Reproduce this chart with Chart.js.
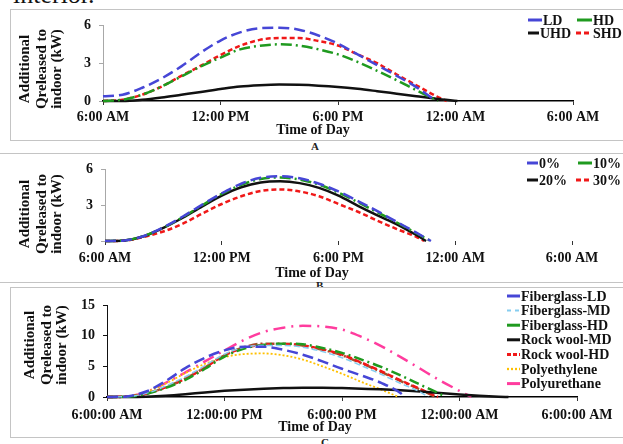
<!DOCTYPE html>
<html>
<head>
<meta charset="utf-8">
<script src="https://cdn.jsdelivr.net/npm/chart.js@4.4.1/dist/chart.umd.min.js"></script>
<style>
  body { margin: 0; width: 623px; height: 444px; overflow: hidden; background: #fff; position: relative; font-family: "Liberation Serif", serif; }
  .box { position: absolute; border: 1px solid #c4c4c4; background: #fff; }
  canvas { position: absolute; }
  .cap { position: absolute; font: bold 11px "Liberation Serif", serif; color: #222; }
  .top { position: absolute; left: 13px; top: -18px; font: 26px "Liberation Serif", serif; line-height: 26px; color: #111; }
</style>
</head>
<body>
<div class="top">interior.</div>
<div class="box" style="left:10px;top:9px;width:630px;height:130px"></div>
<div class="cap" style="left:311px;top:140px">A</div>
<div class="box" style="left:-2px;top:153px;width:640px;height:128px"></div>
<div class="cap" style="left:316px;top:279px">B</div>
<div class="box" style="left:10px;top:287px;width:630px;height:149px"></div>
<div class="cap" style="left:321px;top:436px">C</div>
<canvas id="chartA" width="613" height="131" style="left:10px;top:9px"></canvas>
<canvas id="chartB" width="613" height="129" style="left:10px;top:153px"></canvas>
<canvas id="chartC" width="613" height="150" style="left:10px;top:287px"></canvas>
<script>
// hours after 6:00 AM, one value per hour; the last number is the hour where the curve reaches 0
const tickHours = [0, 6, 12, 18, 24];
const timeLabels = ["6:00 AM", "12:00 PM", "6:00 PM", "12:00 AM", "6:00 AM"];
const timeLabelsC = ["6:00:00 AM", "12:00:00 PM", "6:00:00 PM", "12:00:00 AM", "6:00:00 AM"];

// A - density
const ldA  = [0.38, 0.5, 1.05, 1.8, 2.75, 3.85, 4.8, 5.45, 5.78, 5.82, 5.66, 5.2, 4.55, 3.7, 2.85, 2.0, 1.1];
const hdA  = [0, 0.1, 0.5, 1.15, 1.95, 2.75, 3.45, 4.1, 4.38, 4.5, 4.4, 4.1, 3.7, 3.1, 2.4, 1.65, 0.85];
const uhdA = [0, 0, 0.1, 0.28, 0.5, 0.72, 0.95, 1.15, 1.25, 1.3, 1.28, 1.22, 1.12, 0.97, 0.78, 0.58, 0.38, 0.18];
const shdA = [0, 0.1, 0.5, 1.15, 2.0, 2.8, 3.65, 4.38, 4.85, 5.0, 5.0, 4.76, 4.4, 3.7, 3.0, 2.1, 1.25, 0.4];
const endA = [17.0, 17.1, 18.1, 17.55];

// B - percentages
const p0B  = [0, 0.05, 0.42, 1.15, 2.05, 3.05, 4.0, 4.8, 5.3, 5.42, 5.25, 4.8, 4.15, 3.35, 2.5, 1.6, 0.7];
const p10B = [0, 0.05, 0.42, 1.12, 2.0, 3.0, 3.95, 4.7, 5.2, 5.32, 5.15, 4.72, 4.05, 3.25, 2.4, 1.55, 0.65];
const p20B = [0, 0.05, 0.4, 1.1, 1.95, 2.9, 3.8, 4.5, 4.9, 5.0, 4.85, 4.45, 3.8, 2.95, 2.15, 1.4, 0.5];
const p30B = [0, 0.03, 0.35, 0.8, 1.45, 2.3, 3.1, 3.75, 4.2, 4.32, 4.15, 3.75, 3.1, 2.45, 1.7, 1.0, 0.35];
const endB = [16.75, 16.75, 16.5, 16.4];

// C - materials
const fgLdC  = [0, 0.1, 0.9, 2.6, 4.7, 6.4, 7.6, 8.2, 8.2, 7.7, 6.9, 5.8, 4.6, 3.5, 2.3, 0.6];
const fgMdC  = [0, 0.05, 0.6, 1.8, 3.3, 5.1, 7.0, 8.1, 8.4, 8.4, 8.1, 7.4, 6.4, 5.1, 3.7, 2.2, 0.8];
const fgHdC  = [0, 0.05, 0.5, 1.5, 2.8, 4.6, 6.6, 7.9, 8.5, 8.7, 8.6, 8.0, 7.2, 6.1, 4.9, 3.5, 2.0, 0.5];
const rwMdC  = [0, 0, 0.05, 0.2, 0.45, 0.75, 1.0, 1.2, 1.35, 1.45, 1.5, 1.5, 1.45, 1.35, 1.25, 1.1, 0.9, 0.65, 0.4, 0.2, 0.05];
const rwHdC  = [0, 0.05, 0.55, 1.6, 3.0, 4.8, 6.8, 8.0, 8.5, 8.6, 8.4, 7.8, 6.9, 5.6, 4.2, 2.7, 1.3];
const peC    = [0, 0.1, 0.8, 2.2, 3.9, 5.4, 6.5, 7.0, 7.1, 6.8, 6.1, 5.0, 3.8, 2.45, 1.2];
const puC    = [0, 0.1, 0.8, 2.3, 4.0, 5.8, 7.6, 9.3, 10.6, 11.3, 11.6, 11.5, 11.0, 9.8, 8.3, 6.5, 4.6, 2.7, 1.0];
const extraC = [0, 0.05, 0.55, 1.6, 3.0, 4.8, 6.8, 8.1, 8.7, 8.7, 8.4, 7.7, 6.8, 5.5, 4.1, 2.6, 1.2];
const endC = [15.2, 16.4, 17.3, 20.5, 16.9, 14.9, 18.6, 16.8];

const BLUE = "#4646d6", GREEN = "#1f9a1f", RED = "#f01818", BLACK = "#111111";
const tickFont = { family: "Liberation Serif", size: 14, weight: "bold" };

function pts(vals, end) {
  const out = vals.map((v, i) => ({ x: i, y: v }));
  out.push({ x: end, y: 0 });
  return out;
}

function line(label, vals, end, color, dash, width) {
  return {
    label: label, data: pts(vals, end), borderColor: color, backgroundColor: color,
    borderDash: dash, borderWidth: width || 2.5, pointRadius: 0, clip: 6,
    cubicInterpolationMode: "monotone", fill: false
  };
}

// titles and legend are drawn here so they can sit where the figure puts them
const extras = {
  id: "extras",
  afterDraw(chart, args, o) {
    const ctx = chart.ctx;
    ctx.save();
    ctx.fillStyle = "#111";
    ctx.textBaseline = "middle";
    ctx.font = 'bold 15px "Liberation Serif"';
    ctx.textAlign = "center";
    o.yLines.forEach((t, i) => {
      ctx.save();
      ctx.translate(o.yX[i], o.yY);
      ctx.rotate(-Math.PI / 2);
      ctx.fillText(t, 0, 0);
      ctx.restore();
    });
    ctx.font = 'bold 14px "Liberation Serif"';
    ctx.fillText("Time of Day", o.xt[0], o.xt[1]);
    ctx.textAlign = "left";
    o.legend.forEach(it => {
      const ds = chart.data.datasets[it.i];
      ctx.strokeStyle = ds.borderColor;
      ctx.lineWidth = ds.borderWidth + 0.5;
      ctx.setLineDash(it.dash || ds.borderDash || []);
      ctx.beginPath();
      ctx.moveTo(it.x, it.y);
      ctx.lineTo(it.x + it.len, it.y);
      ctx.stroke();
      ctx.fillText(ds.label, it.x + it.len + 1, it.y + 1);
    });
    ctx.restore();
  }
};

function build(id, cfg) {
  return new Chart(document.getElementById(id), {
    type: "line",
    data: { datasets: cfg.datasets },
    plugins: [extras],
    options: {
      responsive: false,
      animation: false,
      layout: { padding: { left: 0, right: cfg.right, top: cfg.top, bottom: 0 } },
      plugins: { legend: { display: false }, tooltip: { enabled: false }, extras: cfg.extras },
      scales: {
        x: {
          type: "linear", min: 0, max: 24,
          afterBuildTicks: s => { s.ticks = tickHours.map(v => ({ value: v })); },
          afterFit: s => { s.height = cfg.xh; },
          ticks: { autoSkip: false, maxRotation: 0, padding: cfg.xpad, color: "#111", font: tickFont,
                   callback: v => cfg.labels[tickHours.indexOf(v)] },
          grid: { drawOnChartArea: false, tickLength: 4, color: "#333" },
          border: cfg.xBorder
        },
        y: {
          min: 0, max: cfg.ymax,
          afterFit: s => { s.width = cfg.yw; },
          ticks: { stepSize: cfg.step, padding: 8, color: "#111", font: tickFont },
          grid: { drawOnChartArea: false, tickLength: 4, color: cfg.yColor },
          border: { display: true, color: cfg.yColor, width: 1 }
        }
      }
    }
  });
}

build("chartA", {
  labels: timeLabels, ymax: 6, step: 3, yw: 93, xh: 39, top: 13, right: 50, xpad: 4,
  yColor: "#a8a8a8", xBorder: { display: true, color: "#000", width: 1.5 },
  datasets: [
    line("LD", ldA, endA[0], BLUE, [11, 5]),
    line("HD", hdA, endA[1], GREEN, [11, 4, 2, 4]),
    line("UHD", uhdA, endA[2], BLACK, []),
    line("SHD", shdA, endA[3], RED, [5, 3])
  ],
  extras: {
    yLines: ["Additional", "Qreleased to", "indoor (kW)"], yX: [15, 32, 47], yY: 60,
    xt: [303, 121],
    legend: [
      { i: 0, x: 518, y: 11, len: 14, dash: [] }, { i: 1, x: 567, y: 11, len: 15, dash: [] },
      { i: 2, x: 518, y: 24, len: 11 }, { i: 3, x: 566, y: 24, len: 16 }
    ]
  }
});

build("chartB", {
  labels: timeLabels, ymax: 6, step: 3, yw: 95, xh: 41, top: 14, right: 51, xpad: 5,
  yColor: "#a8a8a8", xBorder: { display: false },
  datasets: [
    line("0%", p0B, endB[0], BLUE, [11, 5]),
    line("10%", p10B, endB[1], GREEN, [11, 4, 2, 4]),
    line("20%", p20B, endB[2], BLACK, []),
    line("30%", p30B, endB[3], RED, [5, 3])
  ],
  extras: {
    yLines: ["Additional", "Qreleased to", "indoor (kW)"], yX: [15, 32, 47], yY: 61,
    xt: [302, 120],
    legend: [
      { i: 0, x: 517, y: 10, len: 11, dash: [] }, { i: 1, x: 568, y: 10, len: 14, dash: [] },
      { i: 2, x: 517, y: 27, len: 11 }, { i: 3, x: 566, y: 27, len: 16 }
    ]
  }
});

build("chartC", {
  labels: timeLabelsC, ymax: 15, step: 5, yw: 97, xh: 40, top: 18, right: 46, xpad: 6,
  yColor: "#111", xBorder: { display: true, color: "#000", width: 1.5 },
  datasets: [
    line("Fiberglass-LD", fgLdC, endC[0], BLUE, [11, 5]),
    line("Fiberglass-MD", fgMdC, endC[1], "#86cdf0", [6, 3], 1.5),
    line("Fiberglass-HD", fgHdC, endC[2], GREEN, [10, 4, 2, 4]),
    line("Rock wool-MD", rwMdC, endC[3], BLACK, []),
    line("Rock wool-HD", rwHdC, endC[4], RED, [6, 3]),
    line("Polyethylene", peC, endC[5], "#ffc000", [2, 2], 1.8),
    line("Polyurethane", puC, endC[6], "#ff3c9e", [12, 6, 2, 6]),
    line("", extraC, endC[7], "#a0522d", [9, 3, 2, 3])
  ],
  extras: {
    yLines: ["Additional", "Qreleased to", "indoor (kW)"], yX: [20, 37, 52], yY: 58,
    xt: [305, 140],
    legend: [
      { i: 0, x: 497, y: 9, len: 13, dash: [] },
      { i: 1, x: 497, y: 23.6, len: 13, dash: [4, 4] },
      { i: 2, x: 497, y: 38.2, len: 13, dash: [] },
      { i: 3, x: 497, y: 52.8, len: 13, dash: [] },
      { i: 4, x: 497, y: 67.4, len: 13, dash: [4, 2] },
      { i: 5, x: 497, y: 82, len: 13 },
      { i: 6, x: 497, y: 96.6, len: 13, dash: [] }
    ]
  }
});
</script>
</body>
</html>
